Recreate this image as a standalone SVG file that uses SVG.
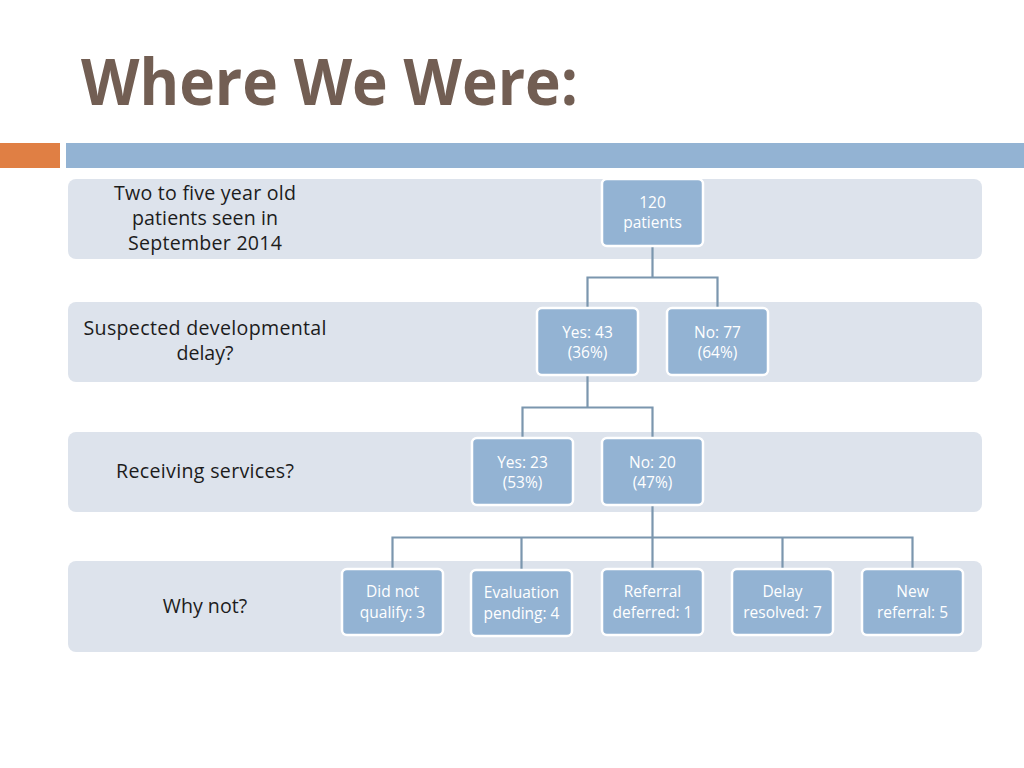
<svg xmlns="http://www.w3.org/2000/svg" width="1024" height="768" viewBox="0 0 1024 768">
<defs>
<style>
.band{fill:#dde3ec;}
.node rect{fill:#93b3d3;stroke:#ffffff;stroke-width:2.5;}
.node text{fill:#ffffff;font-family:"Open Sans","Liberation Sans",sans-serif;font-size:15.5px;text-anchor:middle;}
.lbl{fill:#1c1c1c;font-family:"Open Sans","Liberation Sans",sans-serif;font-size:19.6px;text-anchor:middle;}
.conn{fill:none;stroke:#7b96ae;stroke-width:2.2;}
</style>
</defs>
<rect width="1024" height="768" fill="#ffffff"/>
<text x="81" y="105" font-family="'Open Sans','Liberation Sans',sans-serif" font-weight="bold" font-size="64" fill="#725e53" textLength="497" lengthAdjust="spacingAndGlyphs">Where We Were:</text>
<rect x="0" y="143" width="60" height="25" fill="#e07f44"/>
<rect x="66" y="143" width="958" height="25" fill="#93b3d3"/>

<g id="bands">
<rect class="band" x="68" y="179" width="914" height="80" rx="8"/>
<rect class="band" x="68" y="302" width="914" height="80" rx="8"/>
<rect class="band" x="68" y="432" width="914" height="80" rx="8"/>
<rect class="band" x="68" y="561" width="914" height="91" rx="8"/>
</g>

<g id="labels">
<text class="lbl" x="205" y="200" textLength="182">Two to five year old</text>
<text class="lbl" x="205" y="225" textLength="146">patients seen in</text>
<text class="lbl" x="205" y="250" textLength="154">September 2014</text>
<text class="lbl" x="205" y="335" textLength="243">Suspected developmental</text>
<text class="lbl" x="205" y="360">delay?</text>
<text class="lbl" x="205" y="478" textLength="178">Receiving services?</text>
<text class="lbl" x="205" y="613">Why not?</text>
</g>

<g id="connectors">
<path class="conn" d="M652.5,246 V277.5 H587.5 V308 M652.5,277.5 H717.5 V308"/>
<path class="conn" d="M587.5,375 V407.5 H522.5 V438 M587.5,407.5 H652.5 V438"/>
<path class="conn" d="M652.5,505 V537.5 H392.5 V569 M521.5,537.5 V570 M652.5,537.5 V569 M652.5,537.5 H912.5 V569 M782.5,537.5 V569"/>
</g>

<g id="n120" class="node"><rect x="602" y="179" width="101" height="67" rx="5"/><text x="652.5" y="208">120</text><text x="652.5" y="228">patients</text></g>
<g id="nYes43" class="node"><rect x="537" y="308" width="101" height="67" rx="5"/><text x="587.5" y="338">Yes: 43</text><text x="587.5" y="358">(36%)</text></g>
<g id="nNo77" class="node"><rect x="667" y="308" width="101" height="67" rx="5"/><text x="717.5" y="338">No: 77</text><text x="717.5" y="358">(64%)</text></g>
<g id="nYes23" class="node"><rect x="472" y="438" width="101" height="67" rx="5"/><text x="522.5" y="468">Yes: 23</text><text x="522.5" y="488">(53%)</text></g>
<g id="nNo20" class="node"><rect x="602" y="438" width="101" height="67" rx="5"/><text x="652.5" y="468">No: 20</text><text x="652.5" y="488">(47%)</text></g>
<g id="nDid" class="node"><rect x="342" y="569" width="101" height="66" rx="5"/><text x="392.5" y="597">Did not</text><text x="392.5" y="618">qualify: 3</text></g>
<g id="nEval" class="node"><rect x="471" y="570" width="101" height="66" rx="5"/><text x="521.5" y="598">Evaluation</text><text x="521.5" y="619">pending: 4</text></g>
<g id="nRef" class="node"><rect x="602" y="569" width="101" height="66" rx="5"/><text x="652.5" y="597">Referral</text><text x="652.5" y="618">deferred: 1</text></g>
<g id="nDelay" class="node"><rect x="732" y="569" width="101" height="66" rx="5"/><text x="782.5" y="597">Delay</text><text x="782.5" y="618">resolved: 7</text></g>
<g id="nNew" class="node"><rect x="862" y="569" width="101" height="66" rx="5"/><text x="912.5" y="597">New</text><text x="912.5" y="618">referral: 5</text></g>
</svg>
